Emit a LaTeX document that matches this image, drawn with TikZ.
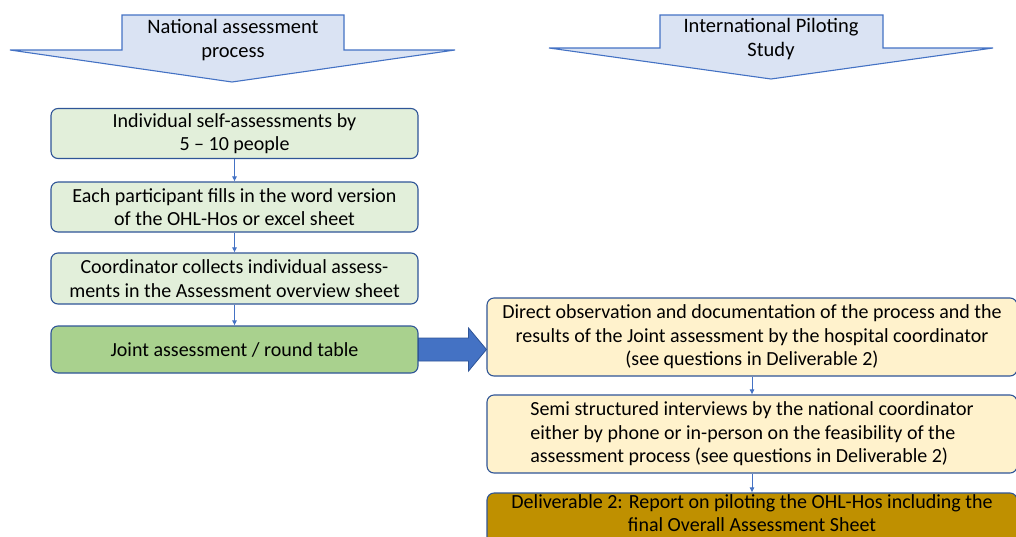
\documentclass[tikz,border=0pt]{standalone}
\usepackage{fontspec}
\setmainfont{Carlito}
\usetikzlibrary{positioning,shapes,arrows.meta,calc}

\definecolor{hdrfill}{HTML}{DAE3F3}
\definecolor{hdrline}{HTML}{4472C4}
\definecolor{boxline}{HTML}{2F5597}
\definecolor{lightgreen}{HTML}{E2EFDA}
\definecolor{midgreen}{HTML}{A9D18E}
\definecolor{lightyellow}{HTML}{FFF2CC}
\definecolor{darkgold}{HTML}{BF9000}
\definecolor{arrowblue}{HTML}{4472C4}

\tikzset{
  stepbox/.style={rectangle, rounded corners=7pt, draw=boxline, line width=1.1pt,
    minimum width=367pt, minimum height=50pt, align=center, inner sep=0pt,
    font=\fontsize{20}{23.5}\selectfont},
  widebox/.style={stepbox, minimum width=530pt, minimum height=78pt},
  hdrarrow/.style={fill=hdrfill, draw=hdrline, line width=1.1pt, line join=miter},
  hdrtext/.style={align=center, inner sep=0pt, font=\fontsize{20.5}{24.5}\selectfont},
  conn/.style={draw=arrowblue, line width=0.6pt, -{Latex[length=5pt,width=5pt]}}
}

\begin{document}
\begin{tikzpicture}[x=1pt, y=-1pt]
    \useasboundingbox (0,0) rectangle (1016,536);
    \clip (0,0) rectangle (1016,536);

    % header arrows
    \draw[hdrarrow] (122,15) -- (344,15) -- (344,50) -- (455,50) -- (232,82)
        -- (10,50) -- (122,50) -- cycle;
    \node[hdrtext] (natl) at (233,40) {National assessment\\process};

    \draw[hdrarrow] (660,15) -- (883,15) -- (883,48) -- (993,48) -- (771,79)
        -- (549,48) -- (660,48) -- cycle;
    \node[hdrtext] (intl) at (771,39) {International Piloting\\Study};

    % national steps
    \node[stepbox, fill=lightgreen] (self) at (234.5,133.5) {Individual self-assessments by\\5 -- 10 people};
    \node[stepbox, fill=lightgreen] (fill) at (234.5,207) {Each participant fills in the word version\\of the OHL-Hos or excel sheet};
    \node[stepbox, fill=lightgreen, minimum height=51pt] (collect) at (234.5,278.5) {Coordinator collects individual assess-\\ments in the Assessment overview sheet};
    \node[stepbox, fill=midgreen, minimum height=47pt] (joint) at (234.5,349.5) {Joint assessment / round table};

    % piloting steps
    \node[widebox, fill=lightyellow] (observe) at (752,337) {Direct observation and documentation of the process and the\\results of the Joint assessment by the hospital coordinator\\(see questions in Deliverable 2)};
    \node[widebox, fill=lightyellow, align=left] (interview) at (752,434) {Semi structured interviews by the national coordinator\\either by phone or in-person on the feasibility of the\\assessment process (see questions in Deliverable 2)};
    \node[widebox, fill=darkgold, minimum height=60pt, text depth=20pt] (report) at (752,523) {Deliverable 2: Report on piloting the OHL-Hos including the\\final Overall Assessment Sheet};

    \draw[conn] (self) -- (fill);
    \draw[conn] (fill) -- (collect);
    \draw[conn] (collect) -- (joint);
    \draw[conn] (observe) -- (interview);
    \draw[conn] (interview) -- (report);

    % block arrow between the columns
    \draw[fill=arrowblue, draw=boxline, line width=0.8pt]
        ($(joint.east)+(0,-11.5)$) -- ++(50,0) -- ++(0,-10) -- (observe.west |- joint.east)
        -- ($(joint.east)+(50,21.5)$) -- ++(0,-10) -- ($(joint.east)+(0,11.5)$) -- cycle;

\end{tikzpicture}
\end{document}
